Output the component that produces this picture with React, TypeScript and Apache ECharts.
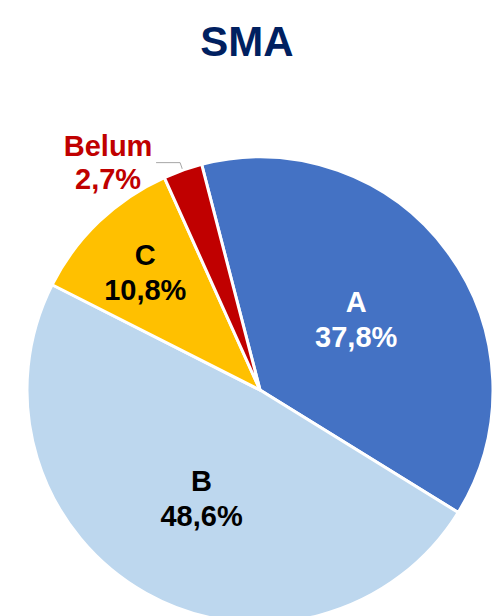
import React, { useEffect, useRef } from "react";
import * as echarts from "echarts";

const TITLE = "SMA";
const categories = ["A", "B", "C", "Belum"];
const values = [37.8, 48.6, 10.8, 2.7];
const colors = ["#4472C4", "#BDD7EE", "#FFC000", "#C00000"];
const labelColors = ["#FFFFFF", "#000000", "#000000", "#C00000"];

const START_ANGLE = 104.5;
const RADIUS = 233;
const FONT = "'Liberation Sans', Arial, sans-serif";

export default function App() {
  const ref = useRef<HTMLDivElement>(null);

  useEffect(() => {
    if (!ref.current) return;
    const chart = echarts.init(ref.current, undefined, { renderer: "svg" });
    const total = values.reduce((a, b) => a + b, 0);
    const midAngles: number[] = [];
    let acc = 0;
    values.forEach((v) => {
      const mid = START_ANGLE - ((acc + v / 2) / total) * 360;
      midAngles.push(mid);
      acc += v;
    });
    const fmt = (v: number) => v.toFixed(1).replace(".", ",");

    chart.setOption({
      animation: false,
      backgroundColor: "#ffffff",
      title: {
        text: TITLE,
        left: "center",
        top: 15,
        textStyle: {
          color: "#002060",
          fontSize: 42,
          fontWeight: "bold",
          fontFamily: FONT,
        },
      },
      series: [
        {
          type: "pie",
          center: [260, 390],
          radius: [0, RADIUS],
          startAngle: START_ANGLE,
          clockwise: true,
          avoidLabelOverlap: false,
          itemStyle: { borderColor: "#ffffff", borderWidth: 3 },
          label: {
            position: "inside",
            fontFamily: FONT,
            fontWeight: "bold",
            fontSize: 29,
            lineHeight: 35,
            formatter: (p: any) => `${p.name}\n${fmt(p.value)}%`,
          },
          labelLine: { show: false },
          labelLayout: (p: any) => {
            if (p.dataIndex === 2) {
              const a = (midAngles[2] * Math.PI) / 180;
              const shift = RADIUS * 0.2;
              return { dx: shift * Math.cos(a), dy: -shift * Math.sin(a) + 3 };
            }
            if (p.dataIndex === 1) {
              return { dy: 4 };
            }
            return {};
          },
          data: categories.map((name, i) => {
            const item: any = {
              name,
              value: values[i],
              itemStyle: { color: colors[i] },
              label: { color: labelColors[i] },
            };
            if (name === "Belum") {
              item.label = {
                position: "outside",
                color: labelColors[i],
                distanceToLabelLine: 2,
                formatter: (p: any) => `{a|${p.name}}\n{a|${fmt(p.value)}%}`,
                rich: {
                  a: {
                    width: 92,
                    align: "center",
                    fontFamily: FONT,
                    fontWeight: "bold",
                    fontSize: 29,
                    lineHeight: 33,
                    color: labelColors[i],
                  },
                },
              };
              item.labelLine = {
                show: true,
                length: 8,
                length2: 24,
                lineStyle: { color: "#A6A6A6", width: 1 },
              };
            }
            return item;
          }),
        },
      ],
    });
    return () => chart.dispose();
  }, []);

  return (
    <div
      ref={ref}
      style={{ position: "fixed", left: 0, top: 0, width: 494, height: 616 }}
    />
  );
}
